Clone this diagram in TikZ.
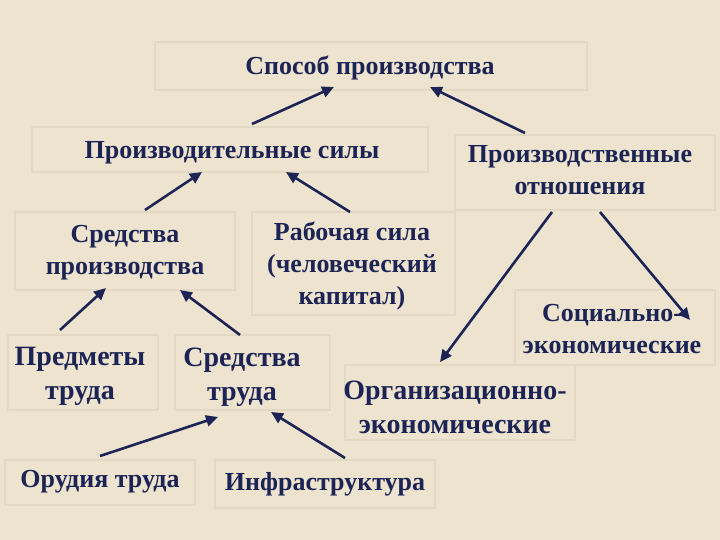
\documentclass[tikz,border=0pt]{standalone}
\usepackage{fontspec}
\setmainfont{Liberation Serif}
\usetikzlibrary{arrows.meta}
\definecolor{bg}{HTML}{EDE3CF}
\definecolor{navy}{HTML}{1C2456}
\definecolor{boxline}{HTML}{E3D8C4}
\tikzset{
  box/.style={draw=boxline, line width=1.5pt},
  lbl/.style={text=navy, font=\bfseries\fontsize{26}{32}\selectfont, align=center},
  lblb/.style={lbl, font=\bfseries\fontsize{28}{34}\selectfont},
  arr/.style={draw=navy, line width=2.6pt, -{Triangle[length=12pt,width=11pt]}}
}
\begin{document}
\begin{tikzpicture}[x=1pt,y=-1pt]
\fill[bg] (0,0) rectangle (720,540);
\useasboundingbox (0,0) rectangle (720,540);
% boxes
\draw[box] (155,42) rectangle (587,90);
\draw[box] (32,127) rectangle (428,172);
\draw[box] (455,135) rectangle (715,210);
\draw[box] (15,212) rectangle (235,290);
\draw[box] (252,212) rectangle (455,315);
\draw[box] (515,290) rectangle (715,365);
\draw[box] (8,335) rectangle (158,410);
\draw[box] (175,335) rectangle (330,410);
\draw[box] (345,365) rectangle (575,440);
\draw[box] (5,460) rectangle (195,505);
\draw[box] (215,460) rectangle (435,508);
% labels
\node[lbl] (sp) at (370,68) {Способ производства};
\node[lbl] (ps) at (232,153) {Производительные силы};
\node[lbl] (po) at (580,170) {Производственные\\отношения};
\node[lbl] (sr) at (125,253) {Средства\\производства};
\node[lbl] (rs) at (352,266) {Рабочая сила\\(человеческий\\капитал)};
\node[lbl] (se) at (612,329) {Социально-\\экономические};
\node[lblb] (pt) at (80,376) {Предметы\\труда};
\node[lblb] (st) at (242,377) {Средства\\труда};
\node[lblb] (oe) at (455,407) {Организационно-\\экономические};
\node[lbl] (ot) at (100,482) {Орудия труда};
\node[lbl] (in) at (325,484) {Инфраструктура};
% arrow ends
\coordinate (a1s) at (252,124); \coordinate (a1e) at (334,87);
\coordinate (a2s) at (525,133); \coordinate (a2e) at (430,87);
\coordinate (a3s) at (145,210); \coordinate (a3e) at (202,172);
\coordinate (a4s) at (350,212); \coordinate (a4e) at (286,172);
\coordinate (a5s) at (60,330); \coordinate (a5e) at (106,288);
\coordinate (a6s) at (240,335); \coordinate (a6e) at (180,290);
\coordinate (a7s) at (552,212); \coordinate (a7e) at (440,362);
\coordinate (a8s) at (600,212); \coordinate (a8e) at (690,320);
\coordinate (a9s) at (100,456); \coordinate (a9e) at (218,417);
\coordinate (a10s) at (345,458); \coordinate (a10e) at (271,412);
\foreach \i in {1,...,10}{\draw[arr] (a\i s) -- (a\i e);}
\end{tikzpicture}
\end{document}
